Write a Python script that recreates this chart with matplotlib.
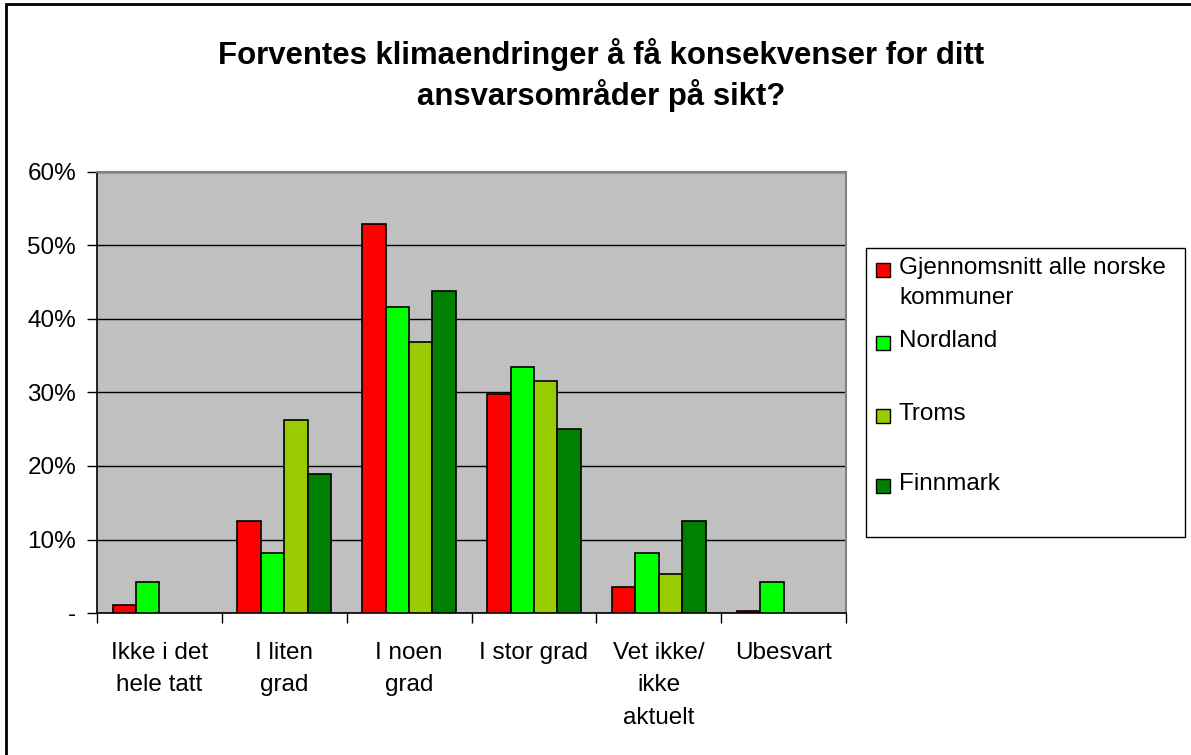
import numpy as np
import matplotlib

matplotlib.use("Agg")
import matplotlib.pyplot as plt
from matplotlib.patches import Rectangle

plt.rcParams["font.family"] = ["Liberation Sans", "DejaVu Sans"]

# ---- data ------------------------------------------------------------------
categories = ["Ikke i det\nhele tatt", "I liten\ngrad", "I noen\ngrad",
              "I stor grad", "Vet ikke/\nikke\naktuelt", "Ubesvart"]
series = ["Gjennomsnitt alle norske\nkommuner", "Nordland", "Troms", "Finnmark"]
avg_norway = [1.1, 12.5, 52.9, 29.8, 3.5, 0.3]
nordland = [4.2, 8.2, 41.7, 33.5, 8.2, 4.2]
troms = [0.0, 26.3, 36.9, 31.6, 5.3, 0.0]
finnmark = [0.0, 18.9, 43.8, 25.0, 12.5, 0.0]
colors = ["#FF0000", "#00FF00", "#99CC00", "#008000"]
y_ticks = [0, 10, 20, 30, 40, 50, 60]
y_labels = ["-", "10%", "20%", "30%", "40%", "50%", "60%"]

W, H = 1191, 755
fig = plt.figure(figsize=(W / 100, H / 100), dpi=100)
ax = fig.add_axes([97 / W, 1 - 613 / H, (846 - 97) / W, (613 - 172) / H])
ax.set_facecolor("#C0C0C0")

# ---- bars (zero values are not drawn, as in Excel) --------------------------
x = np.arange(len(categories))
bw = 0.1875
for k, vals in enumerate([avg_norway, nordland, troms, finnmark]):
    vals = np.array(vals)
    keep = vals > 0
    ax.bar(x[keep] + (k - 1.5) * bw, vals[keep], width=bw, color=colors[k],
           edgecolor="black", linewidth=1.2, zorder=3)

# ---- axes -------------------------------------------------------------------
ax.set_xlim(-0.5, len(categories) - 0.5)
ax.set_ylim(0, 60)
ax.set_yticks(y_ticks)
ax.set_yticklabels(y_labels, fontsize=17.5)
ax.yaxis.grid(True, color="black", lw=1.0, zorder=1)
ax.set_axisbelow(True)
ax.tick_params(axis="y", direction="out", length=7, width=1, pad=8)

ax.set_xticks(x)
ax.set_xticklabels(categories, fontsize=17.5, linespacing=1.6)
ax.set_xticks(np.arange(-0.5, len(categories)), minor=True)
ax.tick_params(axis="x", which="major", length=0, pad=21)
ax.tick_params(axis="x", which="minor", direction="out", length=7, width=1)

for s in ("left", "bottom"):
    ax.spines[s].set_color("black")
    ax.spines[s].set_linewidth(1.2)
for s in ("top", "right"):
    ax.spines[s].set_color("#808080")
    ax.spines[s].set_linewidth(1.5)

# ---- title ------------------------------------------------------------------
fig.text(601 / W, 1 - 38 / H,
         "Forventes klimaendringer å få konsekvenser for ditt\n"
         "ansvarsområder på sikt?",
         ha="center", va="top", fontsize=22.4, fontweight="bold",
         linespacing=1.3)

# ---- legend (drawn by hand to keep Excel's spacing) ------------------------
fig.patches.append(Rectangle((866 / W, 1 - 537 / H), (1185 - 866) / W,
                             (537 - 248) / H, transform=fig.transFigure,
                             fc="white", ec="black", lw=1.0))
for k, (name, yc) in enumerate(zip(series, [270, 343, 416, 486])):
    fig.patches.append(Rectangle((876 / W, 1 - (yc + 7) / H), 14 / W, 14 / H,
                                 transform=fig.transFigure, fc=colors[k],
                                 ec="black", lw=1.0))
    fig.text(899 / W, 1 - (yc - 13) / H, name, ha="left", va="top",
             fontsize=17.5, linespacing=1.45)

# ---- outer chart border -----------------------------------------------------
fig.patches.append(Rectangle((6 / W, -0.01), 1.02, 1 - 4 / H + 0.01,
                             transform=fig.transFigure, fc="none",
                             ec="black", lw=2.0))

fig.savefig("out.png", dpi=100)
